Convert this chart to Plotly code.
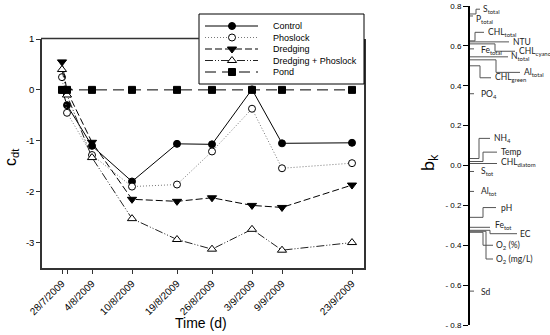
import plotly.graph_objects as go

# ---------------- data: left panel ----------------
days = [0, 1, 6, 14, 23, 30, 38, 44, 58]
tick_days = [0, 1, 6, 14, 23, 30, 38, 44, 58]
tick_labels = ["28/7/2009", "", "4/8/2009", "10/8/2009", "19/8/2009",
               "26/8/2009", "3/9/2009", "9/9/2009", "23/9/2009"]
y_ticks = [1, 0, -1, -2, -3]
y_tick_labels = ["1", "0", "-1", "-2", "-3"]

control = [0.0, -0.30, -1.10, -1.80, -1.06, -1.07, 0.01, -1.05, -1.04]
phoslock = [0.25, -0.45, -1.28, -1.90, -1.86, -1.21, -0.37, -1.54, -1.44]
dredging = [0.55, -0.02, -1.03, -2.15, -2.19, -2.12, -2.27, -2.31, -1.87]
dredging_phoslock = [0.40, -0.10, -1.33, -2.53, -2.94, -3.13, -2.74, -3.15, -3.00]
pond = [0, 0, 0, 0, 0, 0, 0, 0, 0]

series_names = ["Control", "Phoslock", "Dredging", "Dredging + Phoslock", "Pond"]
series_values = [control, phoslock, dredging, dredging_phoslock, pond]

# ---------------- data: right panel ----------------
bk_names = ["S<sub>total</sub>", "P<sub>total</sub>", "CHL<sub>total</sub>", "NTU",
            "CHL<sub>cyano</sub>", "Fe<sub>total</sub>", "N<sub>total</sub>",
            "Al<sub>total</sub>", "CHL<sub>green</sub>", "PO<sub>4</sub>",
            "NH<sub>4</sub>", "Temp", "CHL<sub>diatom</sub>", "S<sub>tot</sub>",
            "Al<sub>tot</sub>", "pH", "Fe<sub>tot</sub>", "EC",
            "O<sub>2</sub> (%)", "O<sub>2</sub> (mg/L)", "Sd"]
bk_values = [0.76, 0.75, 0.625, 0.62, 0.61, 0.585, 0.545, 0.53, 0.50, 0.36,
             0.035, 0.02, 0.01, -0.03, -0.13, -0.26, -0.31, -0.325, -0.335, -0.33, -0.63]
bk_ticks = [0.8, 0.6, 0.4, 0.2, 0.0, -0.2, -0.4, -0.6, -0.8]
bk_tick_labels = ["0.8", "0.6", "0.4", "0.2", "0.0", "- 0.2", "- 0.4", "- 0.6", "- 0.8"]

# label layout (positions of the leader-line labels)
label_y = [0.784, 0.734, 0.668, 0.618, 0.573, 0.578, 0.548, 0.467, 0.44, 0.357,
           0.136, 0.067, 0.013, -0.03, -0.131, -0.211, -0.30, -0.342, -0.40, -0.469, -0.633]
elbow_x = [6, None, 5, None, 25, None, None, 26, 10, None,
           9, 13, None, None, None, 13, None, 20, 13, 16, None]
end_x = [10, 3, 14, 39, 45, 4, 38, 50, 21, 4,
         20, 27, 27, 4, 4, 26, 20, 47, 23, 23, 4]
text_x = [10.5, 3.5, 15.5, 40.5, 46.5, 9, 39, 51.5, 22.5, 9,
          21.5, 29, 29, 8.5, 9, 29, 22.5, 48, 24, 24, 9]

FONT = "Liberation Sans, Arial, sans-serif"
LFONT = "Lato, sans-serif"

styles = [
    dict(dash="solid", color="#000000", symbol="circle", fill="#000000", size=7),
    dict(dash="1px,2px", color="#777777", symbol="circle", fill="#ffffff", size=7),
    dict(dash="7px,3px", color="#000000", symbol="triangle-down", fill="#000000", size=8),
    dict(dash="8px,2px,1px,2px,1px,2px", color="#222222", symbol="triangle-up", fill="#ffffff", size=8),
    dict(dash="11px,6px", color="#000000", symbol="square", fill="#000000", size=7),
]

fig = go.Figure()

for name, vals, st in zip(series_names, series_values, styles):
    fig.add_trace(go.Scatter(
        x=days, y=vals, mode="lines+markers", name=name, showlegend=False,
        line=dict(color=st["color"], width=1, dash=st["dash"]),
        marker=dict(symbol=st["symbol"], size=st["size"], color=st["fill"],
                    line=dict(color="#000000", width=1)),
        xaxis="x", yaxis="y"))

# manual legend (pixel overlay axis)
leg_rows = [26, 37.5, 49, 60.5, 72]
for name, st, ry in zip(series_names, styles, leg_rows):
    fig.add_trace(go.Scatter(
        x=[205, 258], y=[ry, ry], mode="lines", showlegend=False, hoverinfo="skip",
        line=dict(color=st["color"], width=1, dash=st["dash"]),
        xaxis="x3", yaxis="y3"))
    fig.add_trace(go.Scatter(
        x=[232], y=[ry], mode="markers", showlegend=False, hoverinfo="skip",
        marker=dict(symbol=st["symbol"], size=st["size"], color=st["fill"],
                    line=dict(color="#000000", width=1)),
        xaxis="x3", yaxis="y3"))

# right panel connectors
cx, cy = [], []
for v, ly, ex, nx in zip(bk_values, label_y, elbow_x, end_x):
    if ex is None:
        cx += [0, nx, None]
        cy += [v, v, None]
    else:
        cx += [0, ex, ex, nx, None]
        cy += [v, v, ly, ly, None]
fig.add_trace(go.Scatter(x=cx, y=cy, mode="lines", showlegend=False, hoverinfo="skip",
                         line=dict(color="#555555", width=1), xaxis="x2", yaxis="y2"))

annotations = []
for nm, ly, tx in zip(bk_names, label_y, text_x):
    annotations.append(dict(x=tx, y=ly, xref="x2", yref="y2", text=nm, showarrow=False,
                            xanchor="left", yanchor="middle",
                            font=dict(family=LFONT, size=8.5, color="#222222")))
for nm, ry in zip(series_names, leg_rows):
    annotations.append(dict(x=271, y=ry, xref="x3", yref="y3", text=nm, showarrow=False,
                            xanchor="left", yanchor="middle",
                            font=dict(family=FONT, size=9, color="#000000")))
annotations.append(dict(x=12 / 550, y=(335 - 157) / 335, xref="paper", yref="paper",
                        text="c<sub>dt</sub>", showarrow=False, textangle=-90,
                        xanchor="center", yanchor="middle",
                        font=dict(family=FONT, size=16, color="#000000")))
annotations.append(dict(x=201 / 550, y=(335 - 323) / 335, xref="paper", yref="paper",
                        text="Time (d)", showarrow=False,
                        xanchor="center", yanchor="middle",
                        font=dict(family=FONT, size=14, color="#000000")))
annotations.append(dict(x=428 / 550, y=(335 - 163) / 335, xref="paper", yref="paper",
                        text="b<sub>k</sub>", showarrow=False, textangle=-90,
                        xanchor="center", yanchor="middle",
                        font=dict(family=LFONT, size=18, color="#000000")))

shapes = [
    dict(type="rect", xref="x3", yref="y3", x0=199, x1=364, y0=14, y1=84,
         line=dict(color="#000000", width=1)),
    dict(type="line", xref="x3", yref="y3", x0=41, x1=199, y0=38.5, y1=38.5,
         line=dict(color="#333333", width=1.5)),
]

fig.update_layout(
    width=550, height=335,
    margin=dict(l=0, r=0, t=0, b=0, autoexpand=False),
    paper_bgcolor="white", plot_bgcolor="rgba(0,0,0,0)",
    showlegend=False,
    xaxis=dict(domain=[42 / 550, 364 / 550], range=[-4, 60.4], anchor="y", automargin=False,
               tickmode="array", tickvals=tick_days, ticktext=tick_labels,
               tickangle=-45, ticks="outside", ticklen=4, tickwidth=1, tickcolor="#333333",
               showline=True, linecolor="#333333", linewidth=1.5, mirror=False,
               showgrid=False, zeroline=False,
               tickfont=dict(family=FONT, size=10, color="#000000")),
    yaxis=dict(domain=[67 / 335, 296 / 335], range=[-3.5, 1], anchor="x", automargin=False,
               tickmode="array", tickvals=y_ticks, ticktext=y_tick_labels,
               ticks="outside", ticklen=4, tickwidth=1, tickcolor="#333333",
               showline=True, linecolor="#333333", linewidth=1.5, mirror=True,
               showgrid=False, zeroline=False,
               tickfont=dict(family=FONT, size=9.5, color="#000000")),
    xaxis2=dict(domain=[470 / 550, 1.0], range=[0, 80], anchor="y2", visible=False,
                automargin=False),
    yaxis2=dict(domain=[10 / 335, 329 / 335], range=[-0.8, 0.8], anchor="x2", automargin=False,
                tickmode="array", tickvals=bk_ticks, ticktext=bk_tick_labels,
                ticks="outside", ticklen=5, tickwidth=1, tickcolor="#000000",
                showline=True, linecolor="#000000", linewidth=2,
                showgrid=False, zeroline=False,
                tickfont=dict(family=FONT, size=8, color="#000000")),
    xaxis3=dict(domain=[0, 1], range=[0, 550], anchor="y3", visible=False, fixedrange=True,
                automargin=False),
    yaxis3=dict(domain=[0, 1], range=[335, 0], anchor="x3", visible=False, fixedrange=True,
                automargin=False),
    annotations=annotations,
    shapes=shapes,
)

fig.write_html("out.html", config={"displayModeBar": False},
               post_script="document.body.style.margin='0';document.body.style.padding='0';")
